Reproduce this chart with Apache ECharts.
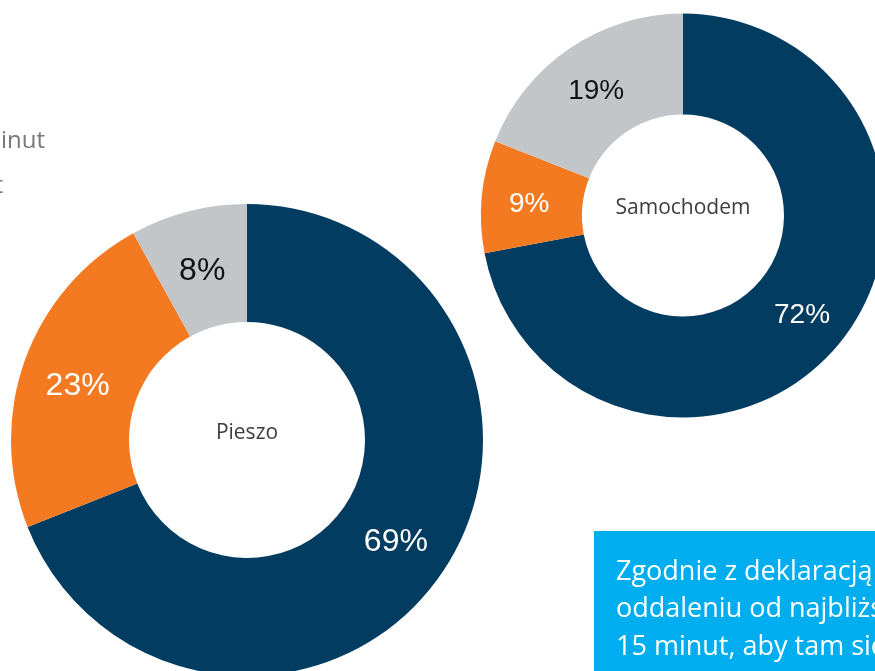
<!DOCTYPE html>
<html>
<head>
<meta charset="utf-8">
<script src="https://cdn.jsdelivr.net/npm/echarts@6/dist/echarts.min.js"></script>
<style>
  html, body { margin: 0; padding: 0; background: #fff; }
  #chart { width: 875px; height: 671px; }
</style>
</head>
<body>
<div id="chart"></div>
<script>
// kategorie w kolejności zgodnej z ruchem wskazówek zegara, od godziny 12
const categories = ['do 15 minut', '15-30 minut', 'powyżej 30 minut'];
const pieszoValues = [69, 23, 8];
const samochodemValues = [72, 9, 19];
const chartTitles = ['Pieszo', 'Samochodem'];

const sliceColors = ['#023c60', '#f47a22', '#c3c6c9'];
const labelColors = ['#ffffff', '#ffffff', '#111111'];
// przesunięcie etykiet w dół (px), jak w oryginale
const pieszoLabelShift = [1, 7, 6];
const samochodemLabelShift = [1, 3, 4];

const boxLines = [
  'Zgodnie z deklaracją mieszkańców',
  'oddaleniu od najbliższego',
  '15 minut, aby tam się dostać'
];

function buildData(values) {
  return values.map((v, i) => ({
    name: categories[i],
    value: v,
    itemStyle: { color: sliceColors[i] },
    label: { color: labelColors[i] }
  }));
}

function donut(values, shifts, center, radius, fontSize) {
  return {
    type: 'pie',
    center: center,
    radius: radius,
    startAngle: 90,
    clockwise: true,
    silent: true,
    label: {
      show: true,
      position: 'inside',
      formatter: '{c}%',
      fontFamily: 'Liberation Sans',
      fontSize: fontSize
    },
    labelLayout: params => ({ dy: shifts[params.dataIndex] }),
    labelLine: { show: false },
    itemStyle: { borderWidth: 0 },
    data: buildData(values)
  };
}

const chart = echarts.init(document.getElementById('chart'));

const boxText = boxLines.map((line, i) => ({
  type: 'text',
  x: 616,
  y: 572 + i * 37.5,
  style: {
    text: line,
    fill: '#ffffff',
    font: '27px "Open Sans"',
    textAlign: 'left',
    textVerticalAlign: 'middle'
  }
}));

chart.setOption({
  animation: false,
  backgroundColor: '#ffffff',
  series: [
    donut(pieszoValues, pieszoLabelShift, [247, 440], [118, 236], 32),
    donut(samochodemValues, samochodemLabelShift, [683, 215.5], [101, 202], 28)
  ],
  graphic: [
    {
      type: 'text', x: 247, y: 433,
      style: { text: chartTitles[0], fill: '#3d3d3d', font: '21px "Open Sans"', textAlign: 'center', textVerticalAlign: 'middle' }
    },
    {
      type: 'text', x: 683, y: 208,
      style: { text: chartTitles[1], fill: '#3d3d3d', font: '21px "Open Sans"', textAlign: 'center', textVerticalAlign: 'middle' }
    },
    {
      type: 'text', x: 45, y: 141,
      style: { text: 'w ciągu 15 minut', fill: '#76787c', font: '24px "Open Sans"', textAlign: 'right', textVerticalAlign: 'middle' }
    },
    {
      type: 'text', x: 3, y: 186,
      style: { text: 'ponad 30 minut', fill: '#76787c', font: '24px "Open Sans"', textAlign: 'right', textVerticalAlign: 'middle' }
    },
    {
      type: 'rect',
      shape: { x: 594, y: 531, width: 320, height: 180 },
      style: { fill: '#00aeef' }
    }
  ].concat(boxText)
});
</script>
</body>
</html>
